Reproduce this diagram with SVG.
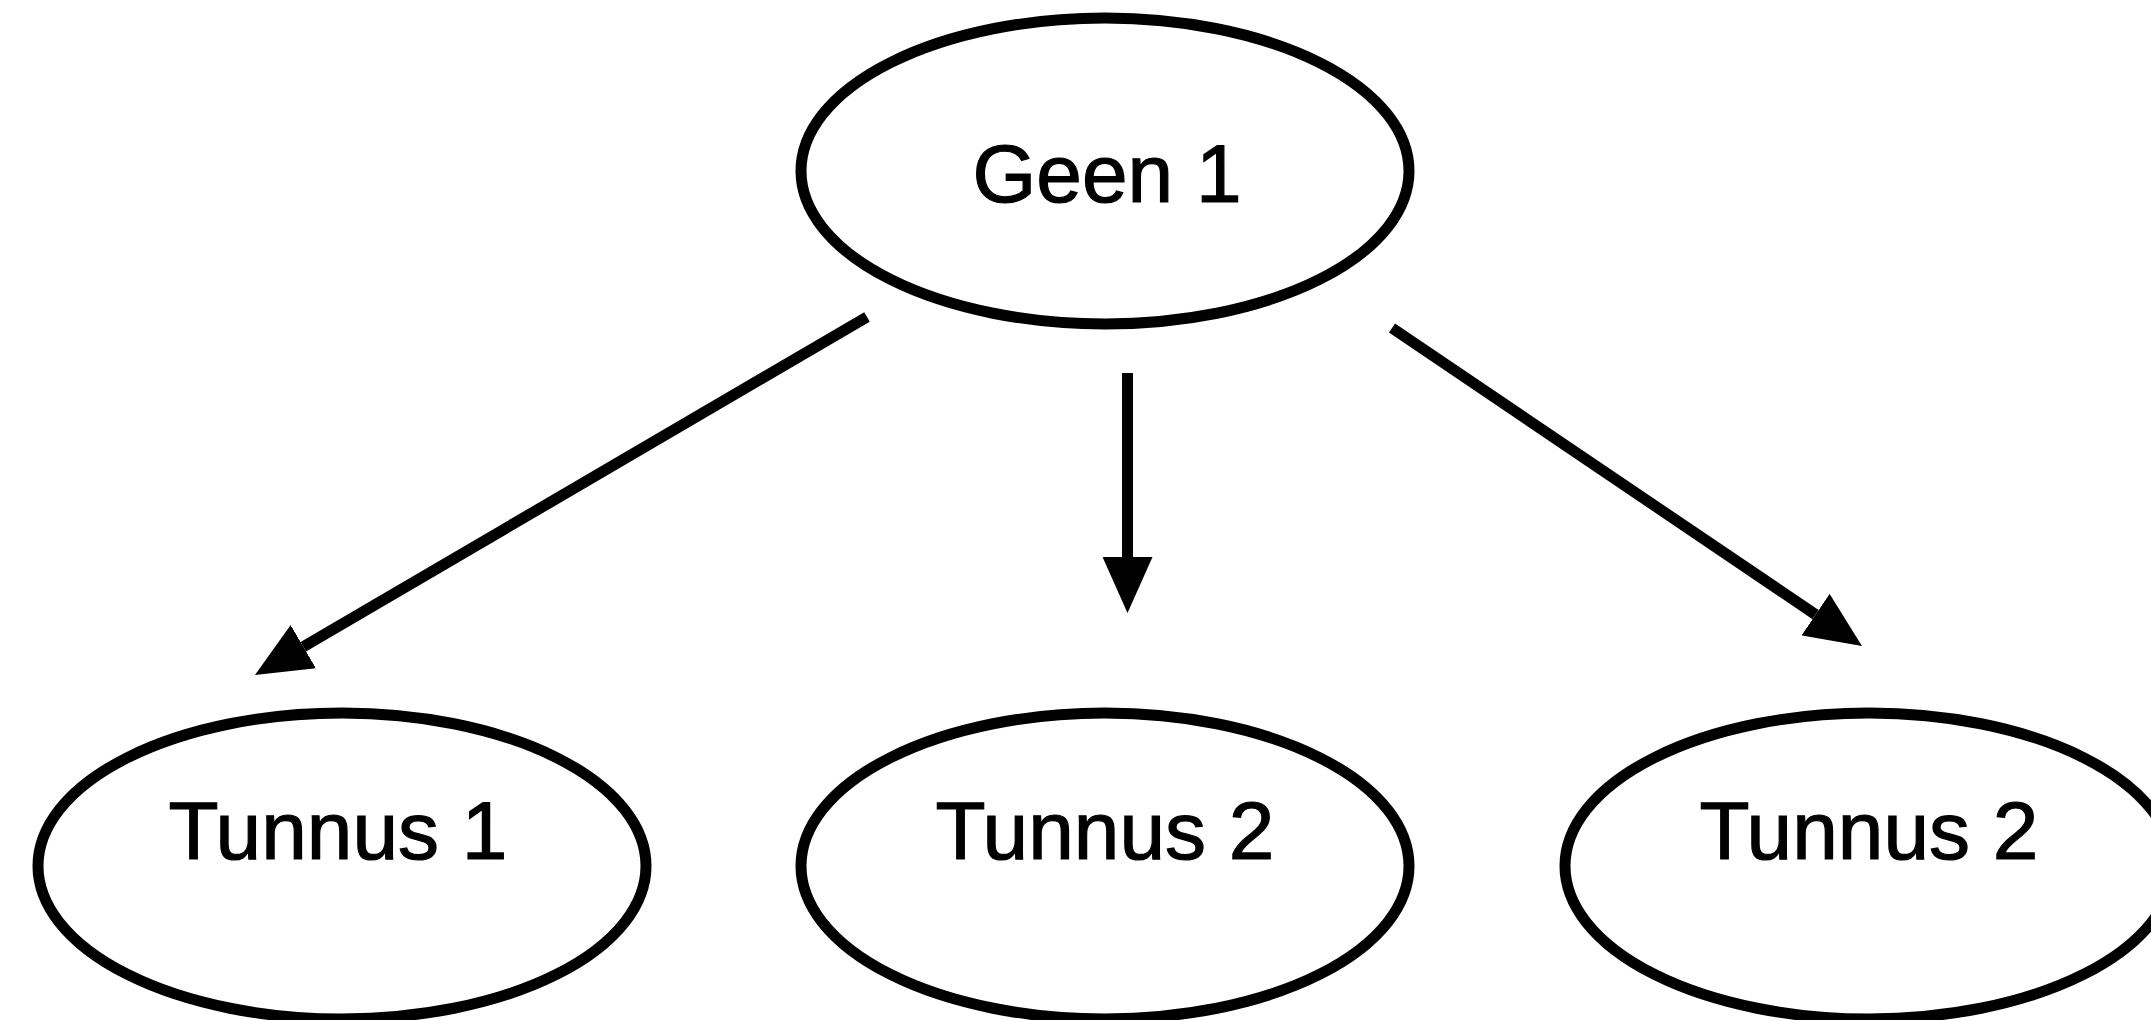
<svg xmlns="http://www.w3.org/2000/svg" width="2151" height="1020" viewBox="0 0 2151 1020">
<style>
.node ellipse{fill:#fff;stroke:#000;stroke-width:11}
.node text{font-family:"Liberation Sans",Arial,Helvetica,sans-serif;font-size:82px;fill:#000;stroke:#000;stroke-width:1.2;text-anchor:middle}
.edge{stroke:#000;stroke-width:11;fill:none;marker-end:url(#ah)}
</style>
<defs>
<marker id="ah" markerUnits="userSpaceOnUse" viewBox="0 0 56 50" refX="0" refY="25" markerWidth="56" markerHeight="50" orient="auto">
<path d="M0,0 L56,25 L0,50 z" fill="#000"/>
</marker>
</defs>
<rect width="2151" height="1020" fill="#fff"/>
<g id="geen1" class="node">
<ellipse cx="1105" cy="171" rx="304" ry="153"/>
<text x="1107" y="202">Geen 1</text>
</g>
<g id="tunnus1" class="node">
<ellipse cx="342" cy="866" rx="304" ry="153"/>
<text x="338" y="859">Tunnus 1</text>
</g>
<g id="tunnus2a" class="node">
<ellipse cx="1105" cy="866" rx="304" ry="153"/>
<text x="1105" y="859">Tunnus 2</text>
</g>
<g id="tunnus2b" class="node">
<ellipse cx="1869" cy="866" rx="304" ry="153"/>
<text x="1869" y="859">Tunnus 2</text>
</g>
<g id="connectors">
<line class="edge" x1="867" y1="317" x2="303.3" y2="646.7"/>
<line class="edge" x1="1127.5" y1="373" x2="1127.5" y2="557"/>
<line class="edge" x1="1392" y1="328" x2="1815.6" y2="614.6"/>
</g>
</svg>
